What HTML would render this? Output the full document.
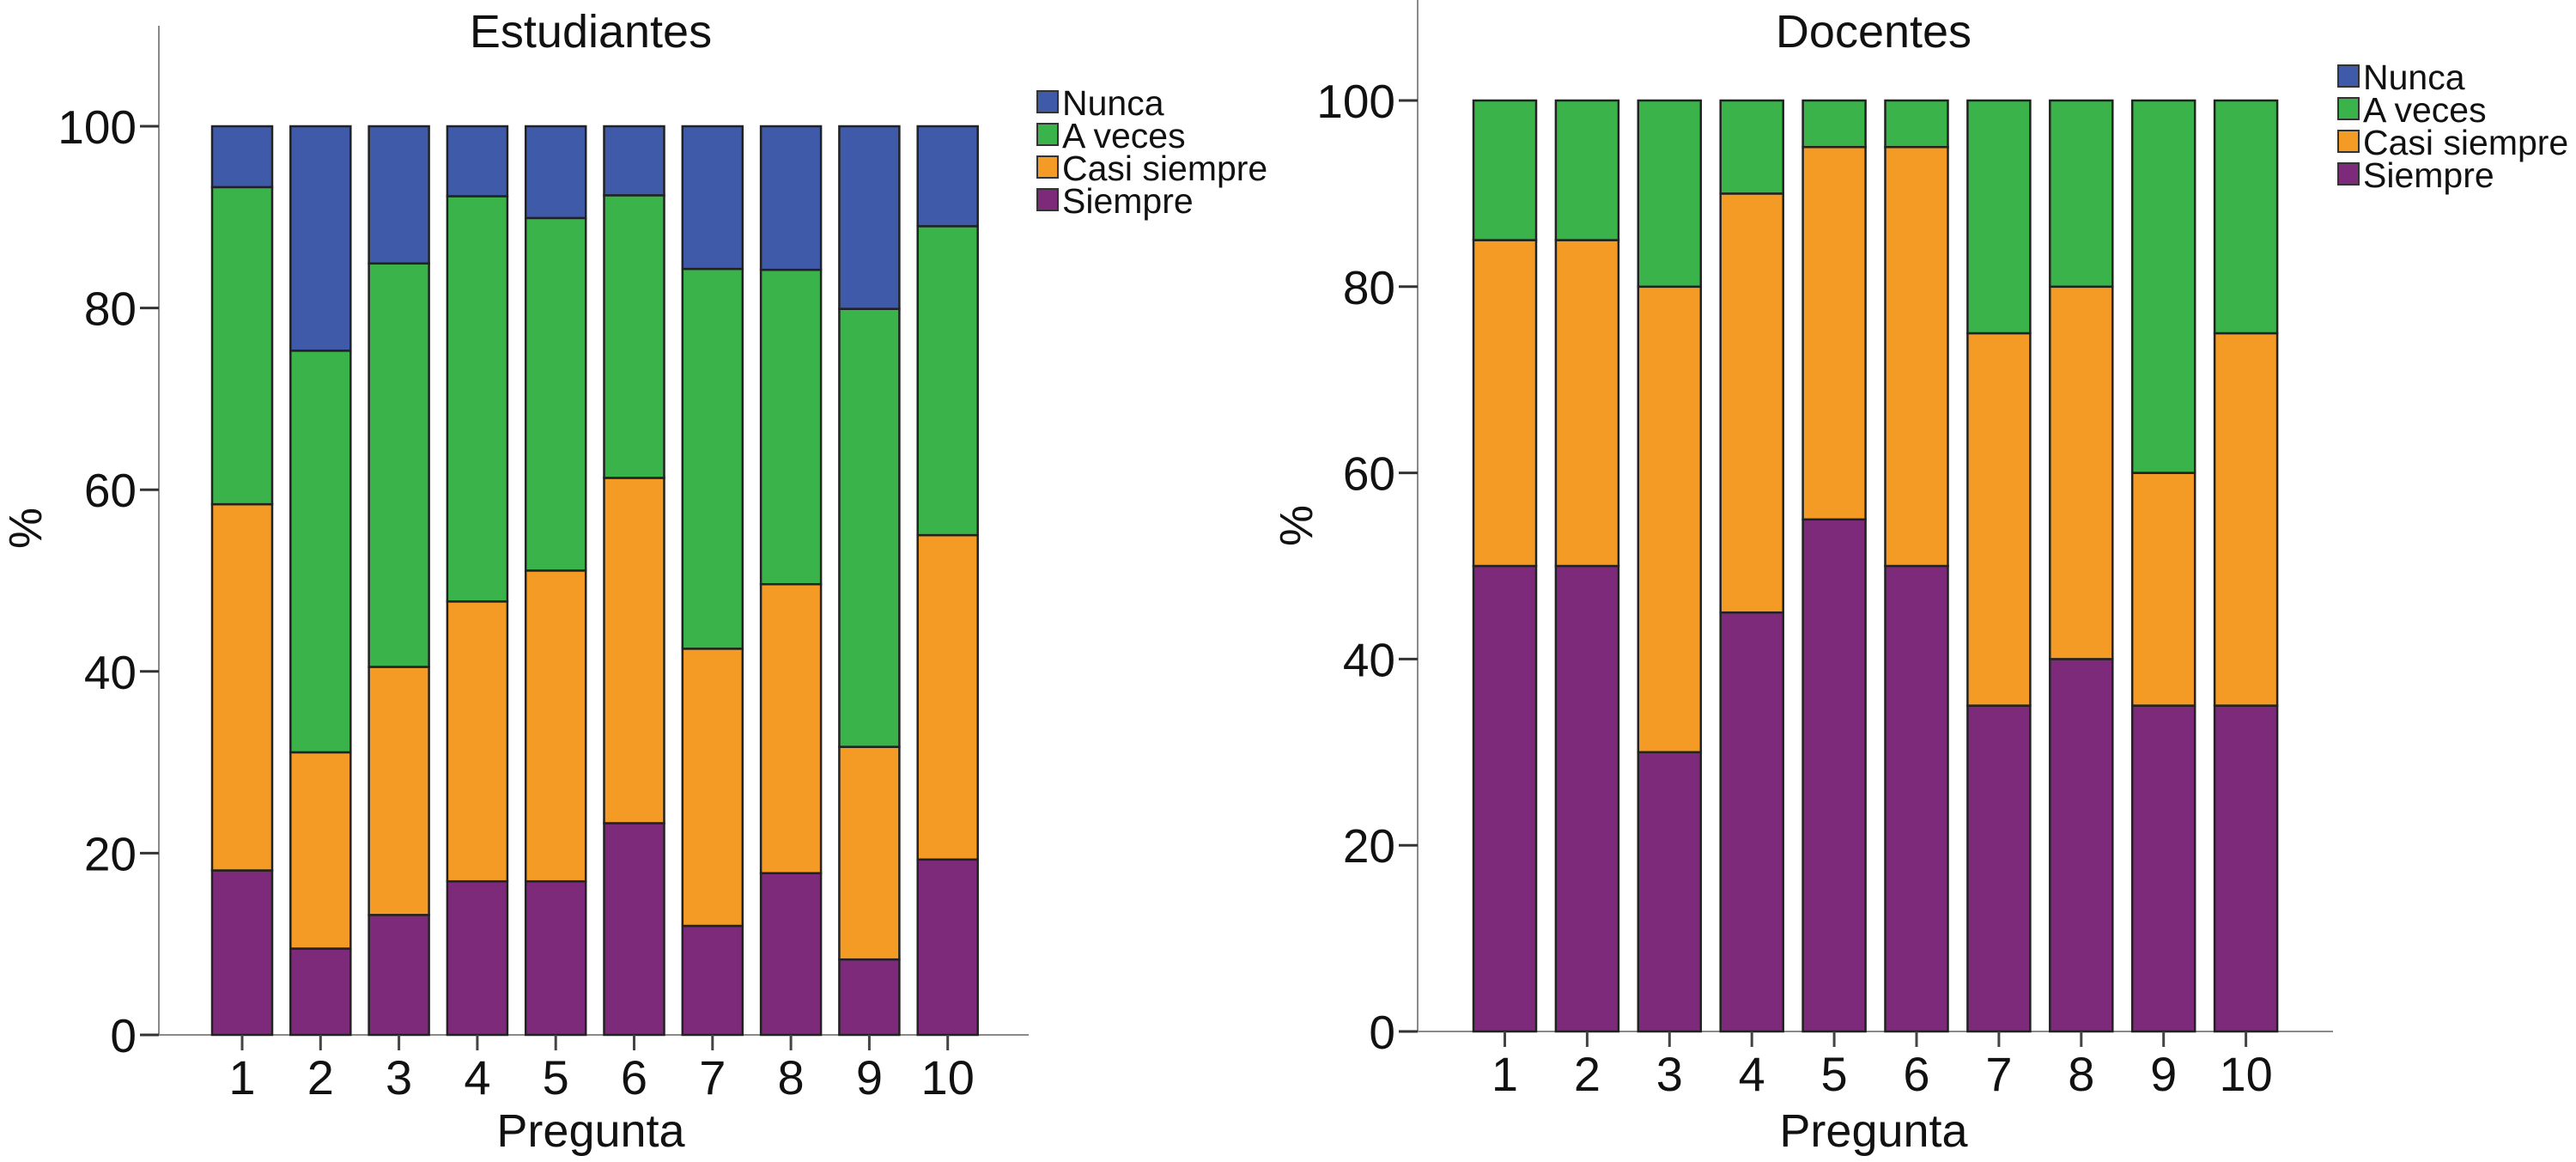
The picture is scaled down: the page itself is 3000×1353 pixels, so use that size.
<!DOCTYPE html>
<html><head><meta charset="utf-8"><style>
body{margin:0;background:#fff;overflow:hidden;}
svg{display:block;font-family:"Liberation Sans",sans-serif;}
</style></head><body>
<svg id="chart" width="3000" height="1353" viewBox="0 0 3000 1353" xmlns="http://www.w3.org/2000/svg"></svg>
<script>
const categories = ["1","2","3","4","5","6","7","8","9","10"];
const seriesNames = ["Siempre","Casi siempre","A veces","Nunca"];
const legendNames = ["Nunca","A veces","Casi siempre","Siempre"];
const yTicks = [0,20,40,60,80,100];
// Estudiantes (segment values, %)
const estSiempre = [18.1,9.5,13.2,16.9,16.9,23.3,12.0,17.8,8.3,19.3];
const estCasi    = [40.3,21.6,27.3,30.8,34.2,38.0,30.5,31.8,23.4,35.7];
const estAveces  = [34.9,44.2,44.4,44.6,38.8,31.1,41.8,34.6,48.2,34.0];
const estNunca   = [6.7,24.7,15.1,7.7,10.1,7.6,15.7,15.8,20.1,11.0];
// Docentes (segment values, %)
const docSiempre = [50,50,30,45,55,50,35,40,35,35];
const docCasi    = [35,35,50,45,40,45,40,40,25,40];
const docAveces  = [15,15,20,10,5,5,25,20,40,25];
const docNunca   = [0,0,0,0,0,0,0,0,0,0];

const colors = {"Siempre":"#7E2A7A","Casi siempre":"#F39B24","A veces":"#3AB34A","Nunca":"#3F5AA8"};
const NS="http://www.w3.org/2000/svg";
const svg=document.getElementById('chart');
function mk(tag,attrs,parent){const e=document.createElementNS(NS,tag);for(const k in attrs)e.setAttribute(k,attrs[k]);(parent||svg).appendChild(e);return e;}

function drawPanel(p){
  const g=mk('g',{});
  
  
  const y=v=>p.y0-(v/100)*(p.y0-p.y100);
  const x=i=>p.x1+i*p.step;
  const ya=mk('line',{x1:p.axX,y1:p.axTop,x2:p.axX,y2:p.y0,stroke:'#8a8a8a','stroke-width':2},g);
  
  const xa=mk('line',{x1:p.axX-22,y1:p.y0,x2:p.axXEnd,y2:p.y0,stroke:'#8a8a8a','stroke-width':2},g);
  
  yTicks.forEach(t=>{
    mk('line',{x1:p.axX-22,y1:y(t),x2:p.axX,y2:y(t),stroke:'#333','stroke-width':3},g);
    const tx=mk('text',{x:p.axX-26,y:y(t)+20,'text-anchor':'end','font-size':55,fill:'#111'},g);
    tx.textContent=t;
    
  });
  categories.forEach((c,i)=>{
    let cum=0;
    const vals=[p.data[0][i],p.data[1][i],p.data[2][i],p.data[3][i]];
    vals.forEach((v,s)=>{
      if(v<=0){return;}
      const r=mk('rect',{x:x(i),y:y(cum+v),width:p.bw,height:y(cum)-y(cum+v),fill:colors[seriesNames[s]],stroke:'#222','stroke-width':2.5},g);
      
      
      cum+=v;
    });
    const cx=x(i)+p.bw/2;
    mk('line',{x1:cx,y1:p.y0,x2:cx,y2:p.y0+18,stroke:'#444','stroke-width':3},g);
    const lt=mk('text',{x:cx,y:p.xLabY,'text-anchor':'middle','font-size':56,fill:'#111'},g);
    lt.textContent=c;
    
  });
  const tt=mk('text',{x:p.titleX,y:55,'text-anchor':'middle','font-size':54,fill:'#111'},g);
  tt.textContent=p.title;
  const xt=mk('text',{x:p.titleX,y:1335,'text-anchor':'middle','font-size':54,fill:'#111'},g);
  xt.textContent='Pregunta';
  const yt=mk('text',{x:0,y:0,'text-anchor':'middle','font-size':54,fill:'#111',transform:'translate('+p.yTitleX+','+p.yTitleY+') rotate(-90)'},g);
  yt.textContent='%';
  legendNames.forEach((n,k)=>{
    const ly=p.legY+k*38;
    const lr=mk('rect',{x:p.legX,y:ly,width:24,height:25,fill:colors[n],stroke:'#333','stroke-width':2},g);
    
    const ltx=mk('text',{x:p.legX+29,y:ly+28,'font-size':41,fill:'#111'},g);
    ltx.textContent=n;
  });
}
drawPanel({id:'estudiantes',title:'Estudiantes',data:[estSiempre,estCasi,estAveces,estNunca],
  axX:185,axTop:30,axXEnd:1198,y0:1205,y100:147,x1:247,step:91.3,bw:70,xLabY:1274,titleX:688,yTitleX:48,yTitleY:615,legX:1208,legY:106});
drawPanel({id:'docentes',title:'Docentes',data:[docSiempre,docCasi,docAveces,docNunca],
  axX:1651,axTop:0,axXEnd:2717,y0:1201,y100:117,x1:1716,step:95.9,bw:73,xLabY:1270,titleX:2182,yTitleX:1528,yTitleY:612,legX:2723,legY:76});
</script>
</body></html>
